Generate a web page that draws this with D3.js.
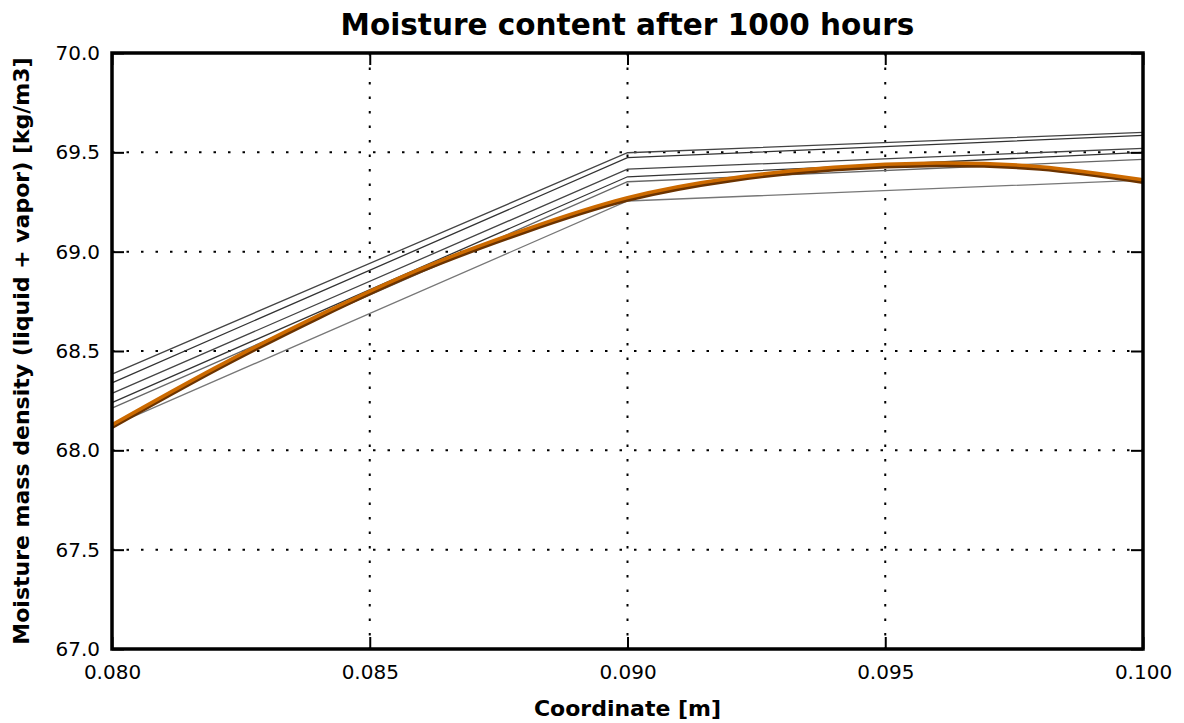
<!DOCTYPE html>
<html><head><meta charset="utf-8">
<script src="https://cdn.jsdelivr.net/npm/d3@7"></script>
<style>body{margin:0;background:#fff}svg{display:block}text{font-family:"DejaVu Sans",sans-serif}</style>
</head><body><svg id="c" width="1184" height="723"></svg>
<script>
const title = "Moisture content after 1000 hours";
const xLabel = "Coordinate [m]";
const yLabel = "Moisture mass density (liquid + vapor) [kg/m3]";
const xTicks = [0.080, 0.085, 0.090, 0.095, 0.100];
const yTicks = [67.0, 67.5, 68.0, 68.5, 69.0, 69.5, 70.0];
// gray three-point profiles (x = 0.080, 0.090, 0.100)
const grayX = [0.080, 0.090, 0.100];
const gray1 = [68.384, 69.498, 69.600];
const gray2 = [68.340, 69.473, 69.585];
const gray3 = [68.287, 69.415, 69.520];
const gray4 = [68.240, 69.377, 69.500];
const gray5 = [68.212, 69.352, 69.465];
const gray6 = [68.123, 69.255, 69.360];
// smooth profile
const fineX = [0.080, 0.082, 0.084, 0.086, 0.088, 0.090, 0.092, 0.094, 0.096, 0.098, 0.100];
const brownY = [68.118, 68.405, 68.668, 68.905, 69.100, 69.262, 69.360, 69.415, 69.436, 69.418, 69.352];
const orangeY = [68.128, 68.415, 68.678, 68.915, 69.110, 69.272, 69.370, 69.425, 69.446, 69.428, 69.362];

const svg = d3.select("#c");
const L = 112, R = 1143, T = 53, B = 649;
const x = d3.scaleLinear().domain([0.080, 0.100]).range([L, R]);
const y = d3.scaleLinear().domain([67.0, 70.0]).range([B, T]);

// grid
const g = svg.append("g");
g.selectAll(".gx").data(xTicks.slice(1, -1)).enter().append("line")
  .attr("x1", d => x(d)).attr("x2", d => x(d)).attr("y1", T).attr("y2", B)
  .attr("stroke", "#000").attr("stroke-width", 2).attr("stroke-dasharray", "2.5,12");
g.selectAll(".gy").data(yTicks.slice(1, -1)).enter().append("line")
  .attr("y1", d => y(d)).attr("y2", d => y(d)).attr("x1", L).attr("x2", R)
  .attr("stroke", "#000").attr("stroke-width", 2).attr("stroke-dasharray", "2.5,12");

// lines
const line = d3.line().x(d => x(d[0])).y(d => y(d[1]));
const grays = [
  [gray1, "#444"], [gray2, "#333"], [gray3, "#444"], [gray4, "#333"], [gray5, "#666"], [gray6, "#777"]
];
grays.forEach(([vals, col]) => {
  svg.append("path").datum(grayX.map((xv, i) => [xv, vals[i]]))
    .attr("d", line).attr("fill", "none").attr("stroke", col).attr("stroke-width", 1.3);
});
const smooth = d3.line().x(d => x(d[0])).y(d => y(d[1])).curve(d3.curveNatural);
svg.append("path").datum(fineX.map((xv, i) => [xv, brownY[i]]))
  .attr("d", smooth).attr("fill", "none").attr("stroke", "#6b3300").attr("stroke-width", 4.5);
svg.append("path").datum(fineX.map((xv, i) => [xv, orangeY[i]]))
  .attr("d", smooth).attr("fill", "none").attr("stroke", "#cc6a00").attr("stroke-width", 3.5);

// axes (inward ticks on all sides)
const tl = 12;
const axB = svg.append("g").attr("transform", `translate(0,${B})`)
  .call(d3.axisBottom(x).tickValues(xTicks).tickSizeInner(-tl).tickSizeOuter(0).tickPadding(16).tickFormat(d3.format(".3f")));
const axT = svg.append("g").attr("transform", `translate(0,${T})`)
  .call(d3.axisTop(x).tickValues(xTicks).tickSizeInner(-tl).tickSizeOuter(0).tickFormat(""));
const axL = svg.append("g").attr("transform", `translate(${L},0)`)
  .call(d3.axisLeft(y).tickValues(yTicks).tickSizeInner(-tl).tickSizeOuter(0).tickPadding(12).tickFormat(d3.format(".1f")));
const axR = svg.append("g").attr("transform", `translate(${R},0)`)
  .call(d3.axisRight(y).tickValues(yTicks).tickSizeInner(-tl).tickSizeOuter(0).tickFormat(""));
[axB, axT, axL, axR].forEach(a => {
  a.select(".domain").remove();
  a.selectAll(".tick line").attr("stroke", "#000").attr("stroke-width", 2);
  a.selectAll(".tick text").attr("font-size", 20).attr("fill", "#000").attr("font-family", "DejaVu Sans");
});
svg.append("rect").attr("x", L).attr("y", T).attr("width", R - L).attr("height", B - T)
  .attr("fill", "none").attr("stroke", "#000").attr("stroke-width", 3.5);

svg.append("text").attr("x", (L + R) / 2).attr("y", 35).attr("text-anchor", "middle")
  .attr("font-size", 29.5).attr("font-weight", "bold").text(title);
svg.append("text").attr("x", (L + R) / 2).attr("y", 716).attr("text-anchor", "middle")
  .attr("font-size", 22).attr("font-weight", "bold").text(xLabel);
svg.append("text").attr("transform", `translate(29,${(T + B) / 2}) rotate(-90)`).attr("text-anchor", "middle")
  .attr("font-size", 22).attr("font-weight", "bold").text(yLabel);
</script></body></html>
